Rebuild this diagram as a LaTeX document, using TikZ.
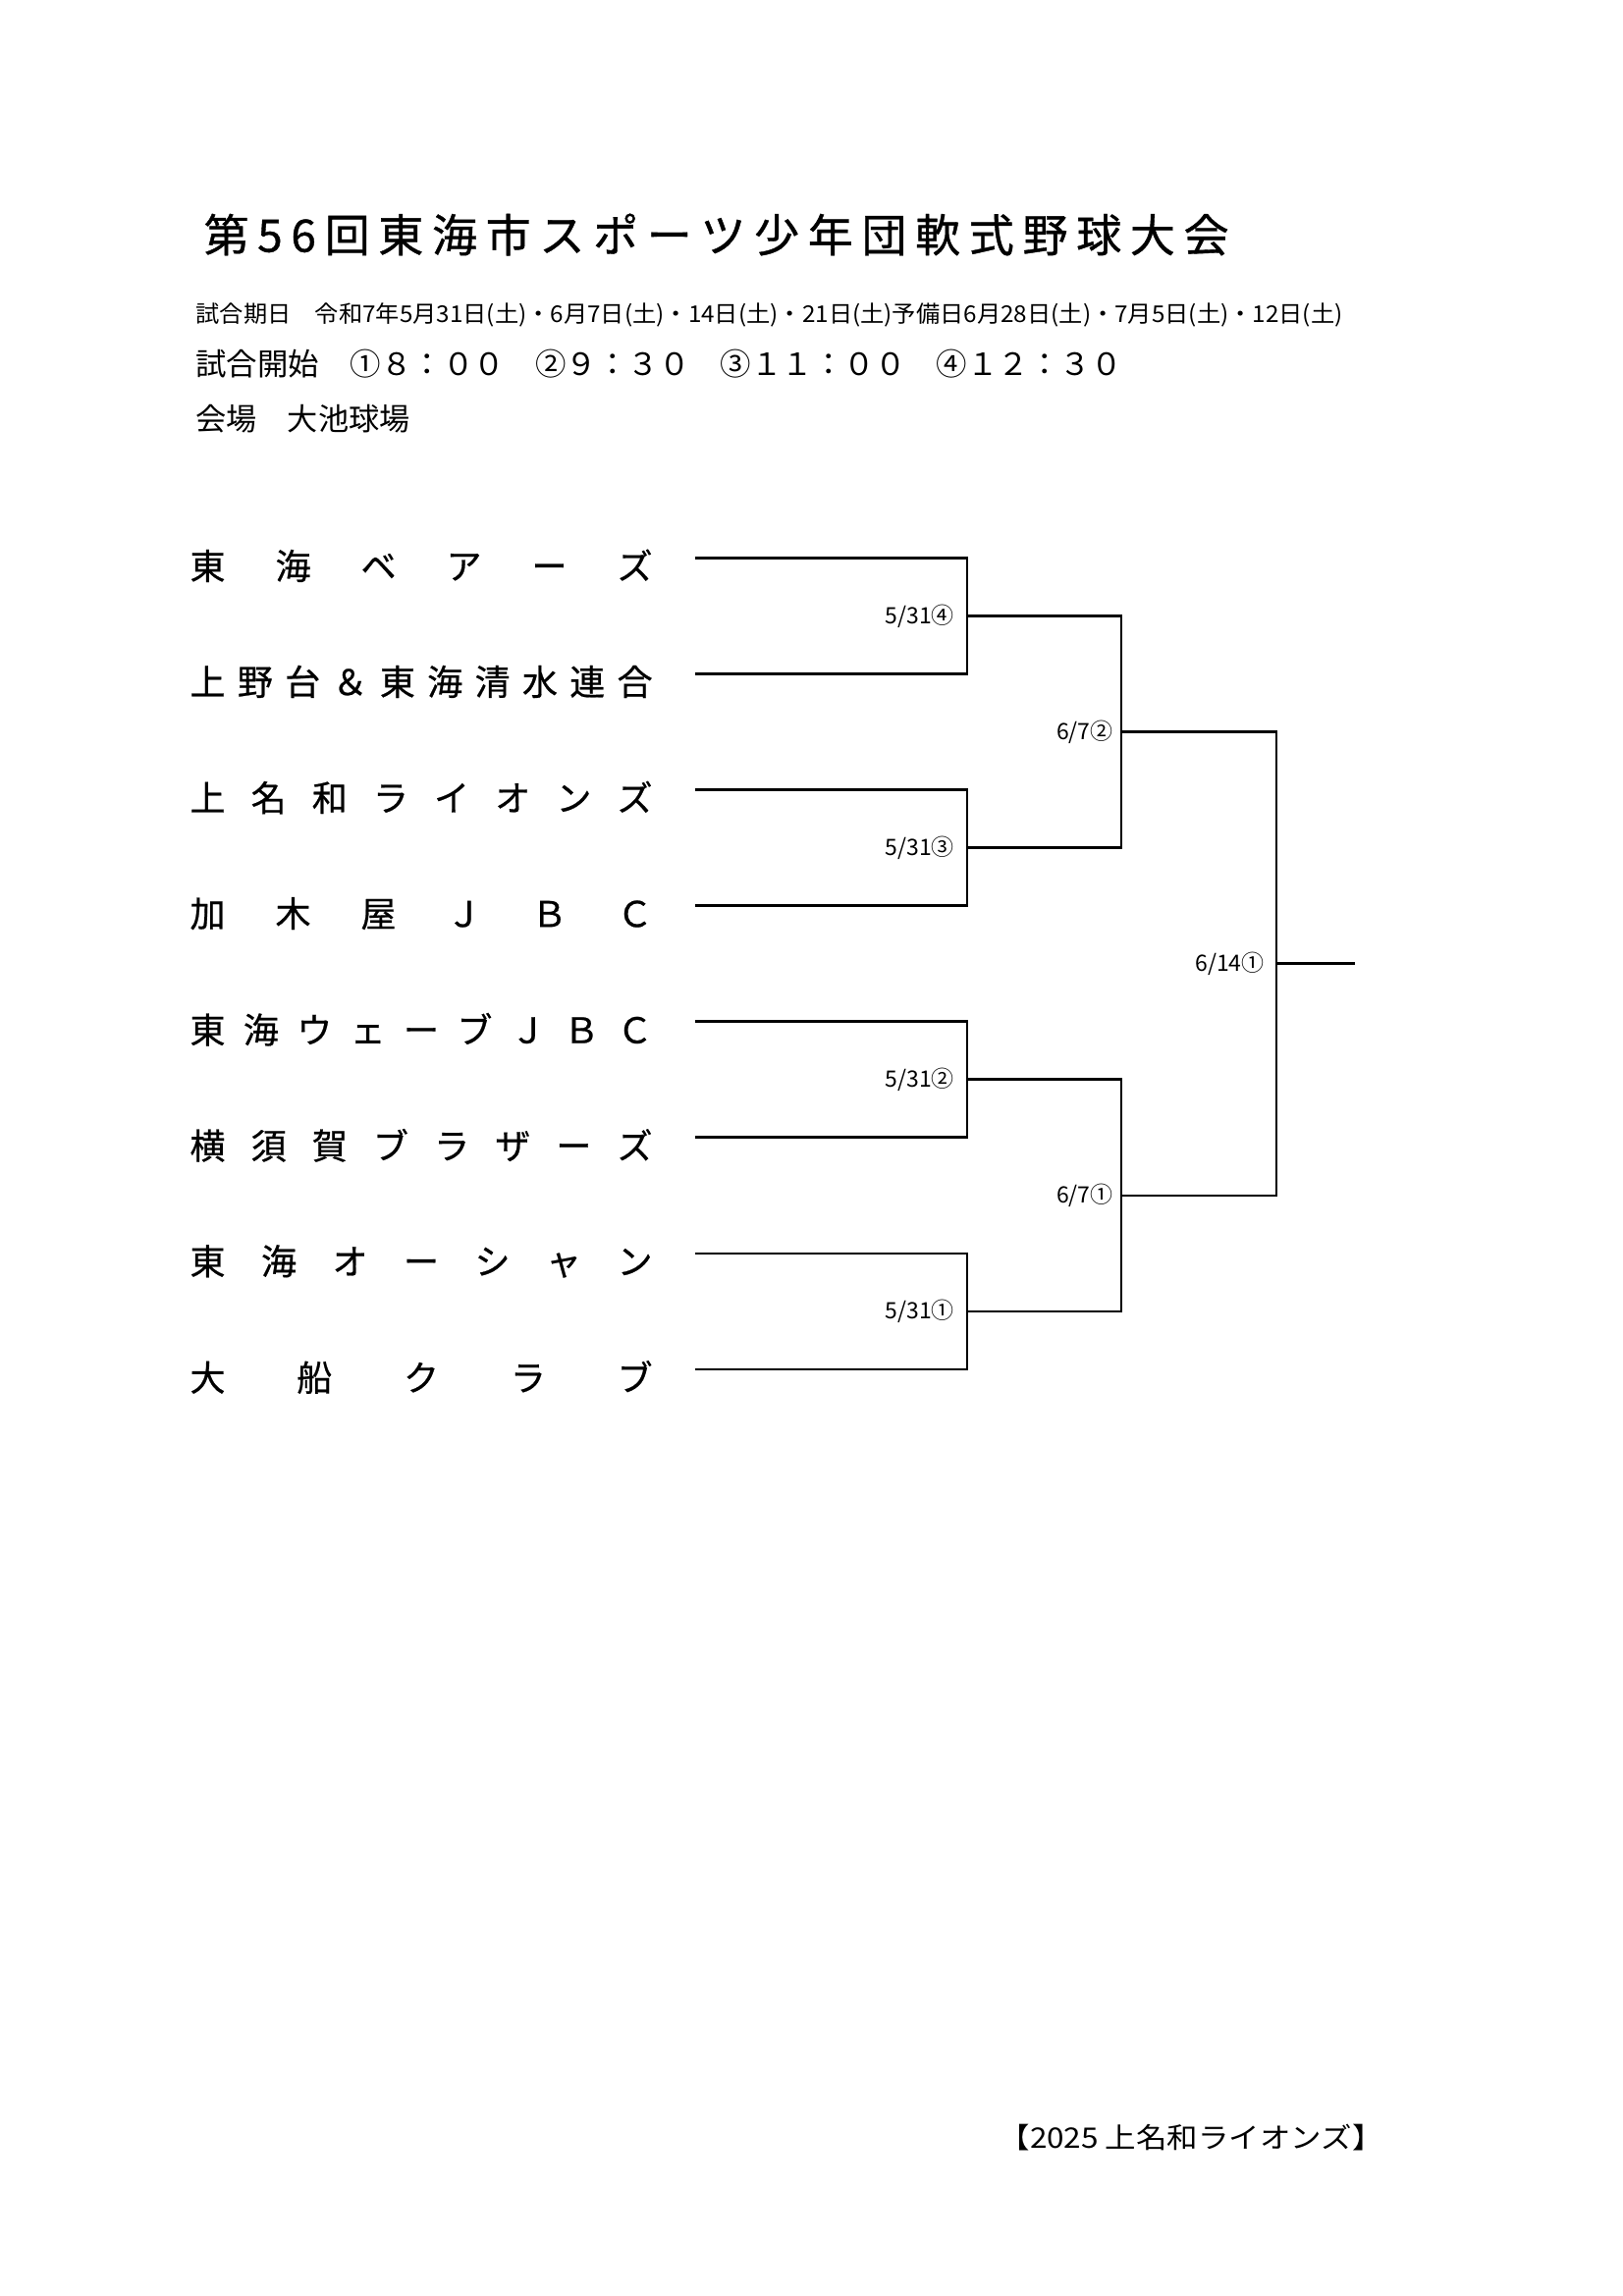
\documentclass[tikz,border=0pt]{standalone}
\usepackage{fontspec}
\setmainfont{Noto Sans CJK JP}
\usepackage{graphicx}
\usetikzlibrary{positioning}

\newlength\pix
\setlength\pix{0.12704mm}
% spread the letters of a word over a fixed width
\def\spreadloop#1#2{#1\ifx\relax#2\else\hfill\expandafter\spreadloop\expandafter#2\fi}
\newcommand\spreadbox[2]{\makebox[#1]{\expandafter\spreadloop#2\relax}}

\tikzset{
  info/.style={anchor=west,inner sep=0pt},
  team/.style={anchor=west,inner sep=0pt,font=\fontsize{13pt}{15pt}\selectfont\addfontfeature{FakeBold=0.6}},
  game/.style={inner sep=0pt,font=\fontsize{8.3pt}{10pt}\selectfont},
  bracket/.style={line width=1pt,black}
}

\begin{document}
\begin{tikzpicture}[x=0.12704mm,y=-0.12704mm]
\useasboundingbox (0,0) rectangle (1653,2339);

% heading
\node[info,font=\fontsize{16.6pt}{18pt}\selectfont\addfontfeature{FakeBold=0.8}] (title) at (207,239) {\spreadbox{1044\pix}{第56回東海市スポーツ少年団軟式野球大会}};
\node[info,font=\fontsize{8.5pt}{10pt}\selectfont] (dates) at (199,321) {\resizebox{1168\pix}{\height}{試合期日　令和7年5月31日(土)・6月7日(土)・14日(土)・21日(土)予備日6月28日(土)・7月5日(土)・12日(土)}};
\node[info,font=\fontsize{11.3pt}{13pt}\selectfont] (start) at (199,371) {\resizebox{943\pix}{\height}{試合開始　①８：００　②９：３０　③１１：００　④１２：３０}};
\node[info,font=\fontsize{11.3pt}{13pt}\selectfont] (venue) at (199,427) {\resizebox{218\pix}{\height}{会場　大池球場}};

% teams
\foreach \name [count=\i] in {東海ベアーズ,上野台＆東海清水連合,上名和ライオンズ,加木屋ＪＢＣ,東海ウェーブＪＢＣ,横須賀ブラザーズ,東海オーシャン,大船クラブ} {
  \node[team] (t\i) at (193,{576.3+118.1*(\i-1)}) {\spreadbox{471\pix}{\name}};
  \coordinate (s\i) at (708,{568.3+118.1*(\i-1)});
}

\coordinate (m1) at (985,627.4);
\coordinate (m2) at (985,863.5);
\coordinate (m3) at (985,1099.8);
\coordinate (m4) at (985,1336);
\coordinate (n1) at (1142,745.4);
\coordinate (n2) at (1142,1218);
\coordinate (f) at (1300,981.7);
\coordinate (win) at (1380,981.7);

\draw[bracket] (s1) -| (m1) |- (s2);
\draw[bracket] (s3) -| (m2) |- (s4);
\draw[bracket] (s5) -| (m3) |- (s6);
\draw[bracket] (s7) -| (m4) |- (s8);
\draw[bracket] (m1) -| (n1) |- (m2);
\draw[bracket] (m3) -| (n2) |- (m4);
\draw[bracket] (n1) -| (f) |- (n2);
\draw[bracket] (f) -- (win);

\node[game,left=1.6mm of m1] (g1) {5/31④};
\node[game,left=1.6mm of m2] (g2) {5/31③};
\node[game,left=1.6mm of m3] (g3) {5/31②};
\node[game,left=1.6mm of m4] (g4) {5/31①};
\node[game,left=1mm of n1] (h1) {6/7②};
\node[game,left=1mm of n2] (h2) {6/7①};
\node[game,left=1.5mm of f] (final) {6/14①};

\node[info,font=\fontsize{10.4pt}{12pt}\selectfont] (footer) at (1017,2177) {\resizebox{391\pix}{\height}{【2025 上名和ライオンズ】}};

\end{tikzpicture}
\end{document}
